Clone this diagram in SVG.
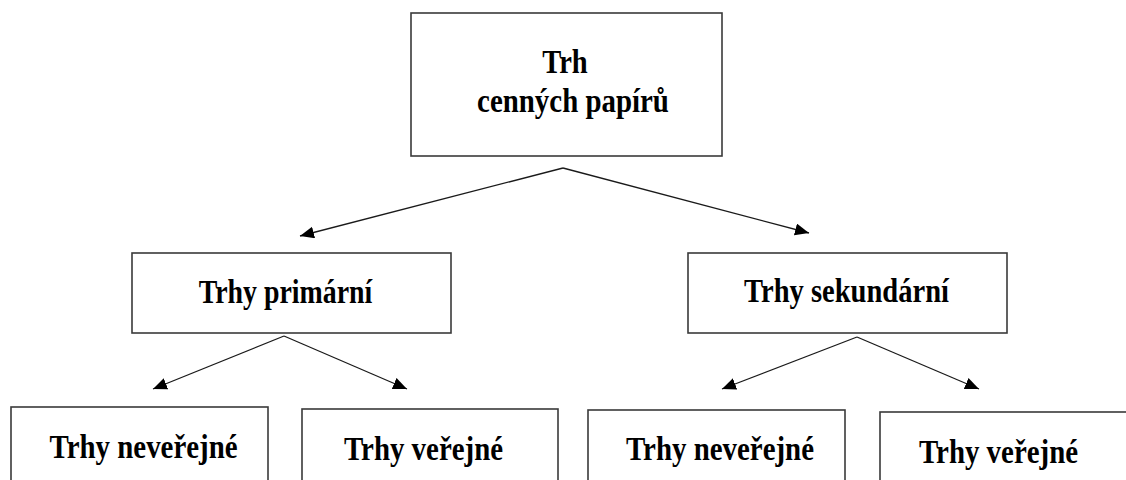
<svg xmlns="http://www.w3.org/2000/svg" width="1126" height="480" viewBox="0 0 1126 480">
<style>
.box{fill:#fff;stroke:#3a3a3a;stroke-width:1.6}
.lbl{font-family:"Liberation Serif","Times New Roman",serif;font-weight:bold;font-size:34px;fill:#000;text-anchor:middle}
.con{stroke:#1a1a1a;stroke-width:1.3;fill:none;marker-end:url(#ah)}
</style>
<defs>
<marker id="ah" markerUnits="userSpaceOnUse" markerWidth="16" markerHeight="14" refX="14" refY="6" orient="auto">
<path d="M0,0 L14,6 L0,12 Z" fill="#000"/>
</marker>
</defs>
<rect width="1126" height="480" fill="#fff"/>
<g id="connectors">
<line class="con" x1="563" y1="168" x2="300" y2="236"/>
<line class="con" x1="563" y1="168" x2="809" y2="233"/>
<line class="con" x1="284" y1="336" x2="153" y2="389"/>
<line class="con" x1="284" y1="336" x2="407" y2="389"/>
<line class="con" x1="857" y1="337" x2="722" y2="389"/>
<line class="con" x1="857" y1="337" x2="979" y2="389"/>
</g>
<g id="n-root">
<rect class="box" x="411" y="13" width="311" height="143"/>
<text class="lbl" transform="translate(565,73) scale(0.84,1)">Trh</text>
<text class="lbl" transform="translate(573,112) scale(0.85,1)">cenných papírů</text>
</g>
<g id="n-primarni">
<rect class="box" x="132" y="253" width="319" height="80"/>
<text class="lbl" transform="translate(285.5,303) scale(0.82,1)">Trhy primární</text>
</g>
<g id="n-sekundarni">
<rect class="box" x="688" y="253" width="319" height="80"/>
<text class="lbl" transform="translate(846.5,302) scale(0.84,1)">Trhy sekundární</text>
</g>
<g id="n-p-neverejne">
<rect class="box" x="11" y="407" width="257" height="100"/>
<text class="lbl" transform="translate(143.6,458) scale(0.85,1)">Trhy neveřejné</text>
</g>
<g id="n-p-verejne">
<rect class="box" x="302" y="409" width="256" height="100"/>
<text class="lbl" transform="translate(423.5,460) scale(0.85,1)">Trhy veřejné</text>
</g>
<g id="n-s-neverejne">
<rect class="box" x="588" y="410" width="257" height="100"/>
<text class="lbl" transform="translate(720,459.5) scale(0.85,1)">Trhy neveřejné</text>
</g>
<g id="n-s-verejne">
<rect class="box" x="880" y="412" width="257" height="100"/>
<text class="lbl" transform="translate(998.5,463) scale(0.85,1)">Trhy veřejné</text>
</g>
</svg>
